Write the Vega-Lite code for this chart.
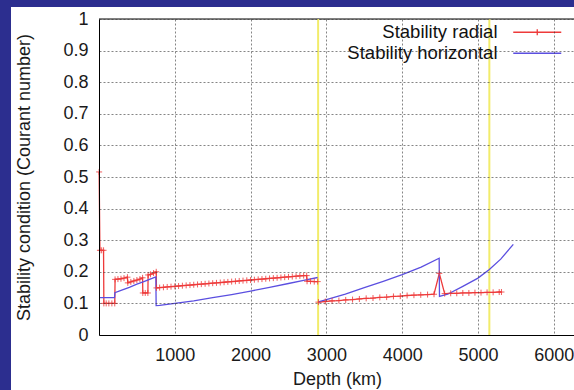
{
  "$schema": "https://vega.github.io/schema/vega-lite/v6.json",
  "width": 476,
  "height": 316,
  "autosize": {"type": "none"},
  "padding": {"left": 99, "top": 19, "right": 0, "bottom": 55},
  "background": "#2c2e8f",
  "datasets": {
    "boundaries": [{"depth": 2891, "name": "CMB"}, {"depth": 5150, "name": "ICB"}],
    "curves": [
      {"depth": 2, "value": 0.516, "series": "Stability radial", "seg": "r1"},
      {"depth": 12, "value": 0.268, "series": "Stability radial", "seg": "r1"},
      {"depth": 35, "value": 0.268, "series": "Stability radial", "seg": "r1"},
      {"depth": 60, "value": 0.268, "series": "Stability radial", "seg": "r1"},
      {"depth": 64, "value": 0.1, "series": "Stability radial", "seg": "r1"},
      {"depth": 95, "value": 0.1, "series": "Stability radial", "seg": "r1"},
      {"depth": 130, "value": 0.1, "series": "Stability radial", "seg": "r1"},
      {"depth": 170, "value": 0.1, "series": "Stability radial", "seg": "r1"},
      {"depth": 208, "value": 0.1, "series": "Stability radial", "seg": "r1"},
      {"depth": 212, "value": 0.176, "series": "Stability radial", "seg": "r1"},
      {"depth": 250, "value": 0.177, "series": "Stability radial", "seg": "r1"},
      {"depth": 290, "value": 0.178, "series": "Stability radial", "seg": "r1"},
      {"depth": 330, "value": 0.18, "series": "Stability radial", "seg": "r1"},
      {"depth": 375, "value": 0.183, "series": "Stability radial", "seg": "r1"},
      {"depth": 380, "value": 0.165, "series": "Stability radial", "seg": "r1"},
      {"depth": 420, "value": 0.168, "series": "Stability radial", "seg": "r1"},
      {"depth": 460, "value": 0.171, "series": "Stability radial", "seg": "r1"},
      {"depth": 500, "value": 0.174, "series": "Stability radial", "seg": "r1"},
      {"depth": 540, "value": 0.177, "series": "Stability radial", "seg": "r1"},
      {"depth": 575, "value": 0.181, "series": "Stability radial", "seg": "r1"},
      {"depth": 578, "value": 0.133, "series": "Stability radial", "seg": "r1"},
      {"depth": 610, "value": 0.133, "series": "Stability radial", "seg": "r1"},
      {"depth": 645, "value": 0.133, "series": "Stability radial", "seg": "r1"},
      {"depth": 648, "value": 0.19, "series": "Stability radial", "seg": "r1"},
      {"depth": 680, "value": 0.192, "series": "Stability radial", "seg": "r1"},
      {"depth": 720, "value": 0.196, "series": "Stability radial", "seg": "r1"},
      {"depth": 755, "value": 0.2, "series": "Stability radial", "seg": "r1"},
      {"depth": 758, "value": 0.149, "series": "Stability radial", "seg": "r1"},
      {"depth": 800, "value": 0.15, "series": "Stability radial", "seg": "r1"},
      {"depth": 850, "value": 0.151, "series": "Stability radial", "seg": "r1"},
      {"depth": 900, "value": 0.152, "series": "Stability radial", "seg": "r1"},
      {"depth": 950, "value": 0.153, "series": "Stability radial", "seg": "r1"},
      {"depth": 1000, "value": 0.154, "series": "Stability radial", "seg": "r1"},
      {"depth": 1050, "value": 0.155, "series": "Stability radial", "seg": "r1"},
      {"depth": 1100, "value": 0.156, "series": "Stability radial", "seg": "r1"},
      {"depth": 1150, "value": 0.157, "series": "Stability radial", "seg": "r1"},
      {"depth": 1200, "value": 0.158, "series": "Stability radial", "seg": "r1"},
      {"depth": 1250, "value": 0.159, "series": "Stability radial", "seg": "r1"},
      {"depth": 1300, "value": 0.16, "series": "Stability radial", "seg": "r1"},
      {"depth": 1350, "value": 0.161, "series": "Stability radial", "seg": "r1"},
      {"depth": 1400, "value": 0.162, "series": "Stability radial", "seg": "r1"},
      {"depth": 1450, "value": 0.163, "series": "Stability radial", "seg": "r1"},
      {"depth": 1500, "value": 0.164, "series": "Stability radial", "seg": "r1"},
      {"depth": 1550, "value": 0.165, "series": "Stability radial", "seg": "r1"},
      {"depth": 1600, "value": 0.166, "series": "Stability radial", "seg": "r1"},
      {"depth": 1650, "value": 0.167, "series": "Stability radial", "seg": "r1"},
      {"depth": 1700, "value": 0.168, "series": "Stability radial", "seg": "r1"},
      {"depth": 1750, "value": 0.169, "series": "Stability radial", "seg": "r1"},
      {"depth": 1800, "value": 0.17, "series": "Stability radial", "seg": "r1"},
      {"depth": 1850, "value": 0.171, "series": "Stability radial", "seg": "r1"},
      {"depth": 1900, "value": 0.172, "series": "Stability radial", "seg": "r1"},
      {"depth": 1950, "value": 0.173, "series": "Stability radial", "seg": "r1"},
      {"depth": 2000, "value": 0.174, "series": "Stability radial", "seg": "r1"},
      {"depth": 2050, "value": 0.175, "series": "Stability radial", "seg": "r1"},
      {"depth": 2100, "value": 0.176, "series": "Stability radial", "seg": "r1"},
      {"depth": 2150, "value": 0.177, "series": "Stability radial", "seg": "r1"},
      {"depth": 2200, "value": 0.178, "series": "Stability radial", "seg": "r1"},
      {"depth": 2250, "value": 0.179, "series": "Stability radial", "seg": "r1"},
      {"depth": 2300, "value": 0.18, "series": "Stability radial", "seg": "r1"},
      {"depth": 2350, "value": 0.181, "series": "Stability radial", "seg": "r1"},
      {"depth": 2400, "value": 0.182, "series": "Stability radial", "seg": "r1"},
      {"depth": 2450, "value": 0.183, "series": "Stability radial", "seg": "r1"},
      {"depth": 2500, "value": 0.184, "series": "Stability radial", "seg": "r1"},
      {"depth": 2550, "value": 0.185, "series": "Stability radial", "seg": "r1"},
      {"depth": 2600, "value": 0.186, "series": "Stability radial", "seg": "r1"},
      {"depth": 2650, "value": 0.187, "series": "Stability radial", "seg": "r1"},
      {"depth": 2700, "value": 0.188, "series": "Stability radial", "seg": "r1"},
      {"depth": 2740, "value": 0.188, "series": "Stability radial", "seg": "r1"},
      {"depth": 2745, "value": 0.17, "series": "Stability radial", "seg": "r1"},
      {"depth": 2790, "value": 0.17, "series": "Stability radial", "seg": "r1"},
      {"depth": 2840, "value": 0.169, "series": "Stability radial", "seg": "r1"},
      {"depth": 2885, "value": 0.169, "series": "Stability radial", "seg": "r1"},
      {"depth": 2895, "value": 0.104, "series": "Stability radial", "seg": "r2"},
      {"depth": 2985, "value": 0.106, "series": "Stability radial", "seg": "r2"},
      {"depth": 3075, "value": 0.108, "series": "Stability radial", "seg": "r2"},
      {"depth": 3165, "value": 0.109, "series": "Stability radial", "seg": "r2"},
      {"depth": 3255, "value": 0.111, "series": "Stability radial", "seg": "r2"},
      {"depth": 3345, "value": 0.112, "series": "Stability radial", "seg": "r2"},
      {"depth": 3435, "value": 0.114, "series": "Stability radial", "seg": "r2"},
      {"depth": 3525, "value": 0.116, "series": "Stability radial", "seg": "r2"},
      {"depth": 3615, "value": 0.117, "series": "Stability radial", "seg": "r2"},
      {"depth": 3705, "value": 0.119, "series": "Stability radial", "seg": "r2"},
      {"depth": 3795, "value": 0.12, "series": "Stability radial", "seg": "r2"},
      {"depth": 3885, "value": 0.122, "series": "Stability radial", "seg": "r2"},
      {"depth": 3975, "value": 0.123, "series": "Stability radial", "seg": "r2"},
      {"depth": 4065, "value": 0.125, "series": "Stability radial", "seg": "r2"},
      {"depth": 4155, "value": 0.126, "series": "Stability radial", "seg": "r2"},
      {"depth": 4245, "value": 0.127, "series": "Stability radial", "seg": "r2"},
      {"depth": 4335, "value": 0.128, "series": "Stability radial", "seg": "r2"},
      {"depth": 4420, "value": 0.129, "series": "Stability radial", "seg": "r2"},
      {"depth": 4490, "value": 0.195, "series": "Stability radial", "seg": "r2"},
      {"depth": 4560, "value": 0.131, "series": "Stability radial", "seg": "r2"},
      {"depth": 4640, "value": 0.132, "series": "Stability radial", "seg": "r2"},
      {"depth": 4720, "value": 0.132, "series": "Stability radial", "seg": "r2"},
      {"depth": 4800, "value": 0.133, "series": "Stability radial", "seg": "r2"},
      {"depth": 4880, "value": 0.133, "series": "Stability radial", "seg": "r2"},
      {"depth": 4960, "value": 0.134, "series": "Stability radial", "seg": "r2"},
      {"depth": 5040, "value": 0.134, "series": "Stability radial", "seg": "r2"},
      {"depth": 5120, "value": 0.135, "series": "Stability radial", "seg": "r2"},
      {"depth": 5200, "value": 0.135, "series": "Stability radial", "seg": "r2"},
      {"depth": 5280, "value": 0.136, "series": "Stability radial", "seg": "r2"},
      {"depth": 5310, "value": 0.136, "series": "Stability radial", "seg": "r2"},
      {"depth": 0, "value": 0.118, "series": "Stability horizontal", "seg": "b1"},
      {"depth": 205, "value": 0.118, "series": "Stability horizontal", "seg": "b1"},
      {"depth": 210, "value": 0.134, "series": "Stability horizontal", "seg": "b1"},
      {"depth": 300, "value": 0.142, "series": "Stability horizontal", "seg": "b1"},
      {"depth": 400, "value": 0.151, "series": "Stability horizontal", "seg": "b1"},
      {"depth": 500, "value": 0.161, "series": "Stability horizontal", "seg": "b1"},
      {"depth": 600, "value": 0.17, "series": "Stability horizontal", "seg": "b1"},
      {"depth": 700, "value": 0.179, "series": "Stability horizontal", "seg": "b1"},
      {"depth": 750, "value": 0.184, "series": "Stability horizontal", "seg": "b1"},
      {"depth": 754, "value": 0.093, "series": "Stability horizontal", "seg": "b1"},
      {"depth": 800, "value": 0.094, "series": "Stability horizontal", "seg": "b1"},
      {"depth": 900, "value": 0.097, "series": "Stability horizontal", "seg": "b1"},
      {"depth": 1000, "value": 0.1, "series": "Stability horizontal", "seg": "b1"},
      {"depth": 1250, "value": 0.108, "series": "Stability horizontal", "seg": "b1"},
      {"depth": 1500, "value": 0.118, "series": "Stability horizontal", "seg": "b1"},
      {"depth": 1750, "value": 0.128, "series": "Stability horizontal", "seg": "b1"},
      {"depth": 2000, "value": 0.139, "series": "Stability horizontal", "seg": "b1"},
      {"depth": 2250, "value": 0.151, "series": "Stability horizontal", "seg": "b1"},
      {"depth": 2500, "value": 0.163, "series": "Stability horizontal", "seg": "b1"},
      {"depth": 2700, "value": 0.173, "series": "Stability horizontal", "seg": "b1"},
      {"depth": 2885, "value": 0.182, "series": "Stability horizontal", "seg": "b1"},
      {"depth": 2895, "value": 0.105, "series": "Stability horizontal", "seg": "b2"},
      {"depth": 3000, "value": 0.112, "series": "Stability horizontal", "seg": "b2"},
      {"depth": 3250, "value": 0.129, "series": "Stability horizontal", "seg": "b2"},
      {"depth": 3500, "value": 0.15, "series": "Stability horizontal", "seg": "b2"},
      {"depth": 3750, "value": 0.17, "series": "Stability horizontal", "seg": "b2"},
      {"depth": 4000, "value": 0.191, "series": "Stability horizontal", "seg": "b2"},
      {"depth": 4250, "value": 0.215, "series": "Stability horizontal", "seg": "b2"},
      {"depth": 4488, "value": 0.243, "series": "Stability horizontal", "seg": "b2"},
      {"depth": 4492, "value": 0.122, "series": "Stability horizontal", "seg": "b2"},
      {"depth": 4600, "value": 0.129, "series": "Stability horizontal", "seg": "b2"},
      {"depth": 4800, "value": 0.154, "series": "Stability horizontal", "seg": "b2"},
      {"depth": 5000, "value": 0.18, "series": "Stability horizontal", "seg": "b2"},
      {"depth": 5150, "value": 0.207, "series": "Stability horizontal", "seg": "b2"},
      {"depth": 5300, "value": 0.24, "series": "Stability horizontal", "seg": "b2"},
      {"depth": 5466, "value": 0.287, "series": "Stability horizontal", "seg": "b2"}
    ]
  },
  "layer": [
    {
      "data": {"values": [{"panel": "slide"}]},
      "mark": {"type": "rect", "fill": "#ffffff", "clip": false},
      "encoding": {
        "x": {"datum": -1161, "type": "quantitative", "title": "Depth (km)", "scale": {"domain": [0, 6280], "nice": false, "zero": false}, "axis": {"zindex": 1, "values": [1000, 2000, 3000, 4000, 5000, 6000], "format": "d", "labelFlush": false, "labelPadding": 11, "titlePadding": 6}},
        "x2": {"datum": 7000},
        "y": {"datum": 1.038, "type": "quantitative", "title": "Stability condition (Courant number)", "scale": {"domain": [0, 1], "nice": false, "zero": false}, "axis": {"zindex": 1, "values": [0, 0.1, 0.2, 0.3, 0.4, 0.5, 0.6, 0.7, 0.8, 0.9, 1], "tickCount": 11, "format": "~g", "labelPadding": 11, "titleX": -75, "titleY": 158, "titleBaseline": "middle", "titleAngle": 270}},
        "y2": {"datum": -0.4}
      }
    },
    {
      "data": {"values": [{"edge": "top"}]},
      "mark": {"type": "rule", "color": "#000000", "strokeWidth": 1},
      "encoding": {
        "y": {"datum": 1, "type": "quantitative", "title": "Stability condition (Courant number)"}
      }
    },
    {
      "data": {"name": "boundaries"},
      "mark": {"type": "rule", "color": "#f2ec6a", "strokeWidth": 2},
      "encoding": {
        "x": {"field": "depth", "type": "quantitative", "title": "Depth (km)"}
      }
    },
    {
      "data": {"name": "curves"},
      "mark": {"type": "line", "strokeWidth": 1.3},
      "encoding": {
        "x": {"field": "depth", "type": "quantitative", "title": "Depth (km)"},
        "y": {"field": "value", "type": "quantitative", "title": "Stability condition (Courant number)"},
        "color": {
          "field": "series", "type": "nominal",
          "scale": {"domain": ["Stability radial", "Stability horizontal"], "range": ["#ee3a3a", "#5b4fe0"]},
          "legend": {
            "title": null, "orient": "none", "legendX": 429, "legendY": 4, "padding": 0,
            "labelFontSize": 18.5, "labelAlign": "right", "labelOffset": -49, "labelColor": "#111111", "labelLimit": 300,
            "symbolSize": 144, "symbolStrokeWidth": 1.3, "rowPadding": 2,
            "encode": {"symbols": {"update": {"shape": {"signal": "datum.value === 'Stability radial' ? 'M-4,0H4M0,-0.5V0.5' : 'M-4,0H4'"}}}}
          }
        },
        "detail": {"field": "seg", "type": "nominal"}
      }
    },
    {
      "data": {"name": "curves"},
      "transform": [{"filter": "datum.series === 'Stability radial'"}],
      "mark": {"type": "point", "shape": "M-1,0H1M0,-1V1", "filled": false, "size": 36, "stroke": "#ee3a3a", "strokeWidth": 0.9, "opacity": 0.9},
      "encoding": {
        "x": {"field": "depth", "type": "quantitative", "title": "Depth (km)"},
        "y": {"field": "value", "type": "quantitative", "title": "Stability condition (Courant number)"}
      }
    }
  ],
  "config": {
    "font": "Liberation Sans",
    "view": {"stroke": "#000000", "strokeWidth": 1},
    "axis": {
      "zindex": 1,
      "ticks": false,
      "domain": true,
      "domainColor": "#000000",
      "grid": true,
      "gridColor": "#333333",
      "gridDash": [2, 2],
      "gridOpacity": 0.6,
      "labelFontSize": 18,
      "labelColor": "#1a1a1a",
      "labelOverlap": false,
      "titleFontSize": 18,
      "titleFontWeight": "normal",
      "titleColor": "#1a1a1a"
    }
  }
}
